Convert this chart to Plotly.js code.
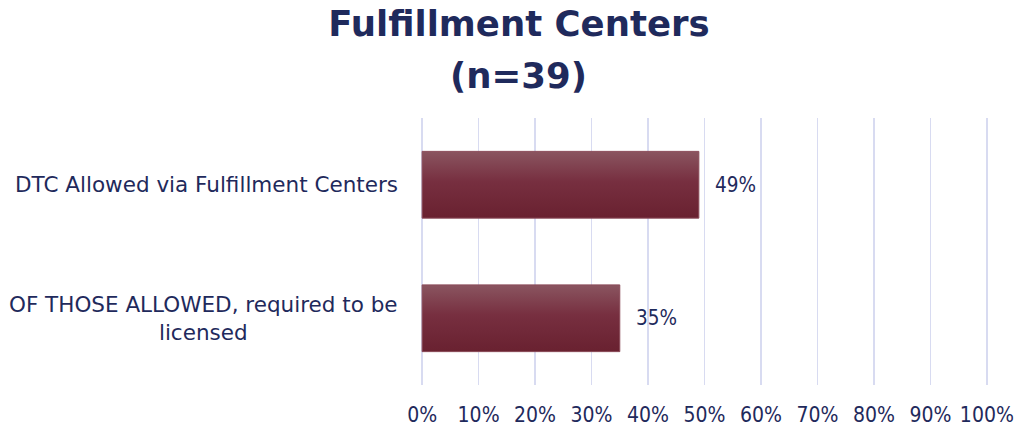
<!DOCTYPE html>
<html>
<head>
<meta charset="utf-8">
<script src="https://cdn.plot.ly/plotly-3.0.1.min.js"></script>
<style>
html,body{margin:0;padding:0;background:#fff;}
#chart{width:1017px;height:429px;}
</style>
</head>
<body>
<div id="chart"></div>
<script>
// ---- data ----
const categories = ["DTC Allowed via Fulfillment Centers", "OF THOSE ALLOWED, required to be licensed"];
const categoryLabels = ["DTC Allowed via Fulfillment Centers", "OF THOSE ALLOWED, required to be<br>licensed"];
const values = [0.49, 0.35];
const valueLabels = ["49%", "35%"];
const titleLine1 = "Fulfillment Centers";
const titleLine2 = "(n=39)";

const navy = "#1f2a5c";
const fontCond = "'DejaVu Sans Condensed', 'Open Sans', sans-serif";
const fontReg = "'DejaVu Sans', 'Open Sans', sans-serif";

const trace = {
  type: "bar",
  orientation: "h",
  x: values,
  y: categories,
  width: 0.5,
  marker: {color: "#742a3b", line: {color: "#8a4b59", width: 1}},
  hoverinfo: "none",
  showlegend: false
};

const annotations = [];
categories.forEach((c, i) => {
  annotations.push({
    x: 0, xref: "paper", y: c, yref: "y",
    xanchor: "right", yanchor: "middle", align: "center",
    xshift: -21, text: categoryLabels[i], showarrow: false,
    font: {family: fontReg, size: 21.5, color: navy}
  });
  annotations.push({
    x: values[i], xref: "x", y: c, yref: "y",
    xanchor: "left", yanchor: "middle", xshift: 14,
    text: valueLabels[i], showarrow: false,
    font: {family: fontCond, size: 20.5, color: navy}
  });
});
annotations.push({
  x: (518 - 421) / 567, xref: "paper", y: (385 - 75) / 267, yref: "paper",
  xanchor: "center", yanchor: "middle",
  text: "<b>" + titleLine2 + "</b>", showarrow: false,
  font: {family: fontReg, size: 35.5, color: navy}
});

const layout = {
  width: 1017, height: 429,
  margin: {l: 421, r: 29, t: 118, b: 44, pad: 0},
  paper_bgcolor: "#ffffff", plot_bgcolor: "#ffffff",
  title: {
    text: "<b>" + titleLine1 + "</b>",
    x: 0.5103, xref: "container", xanchor: "center",
    y: 1 - 24 / 429, yref: "container", yanchor: "middle",
    font: {family: fontReg, size: 35.5, color: navy}
  },
  xaxis: {
    range: [-0.002, 1.002], dtick: 0.1, tick0: 0, tickformat: ".0%",
    showgrid: true, gridcolor: "#d8dbf1", gridwidth: 1.6,
    zeroline: false, showline: false, ticks: "",
    ticklabelstandoff: 15,
    tickfont: {family: fontCond, size: 21, color: navy},
    fixedrange: true
  },
  yaxis: {
    type: "category", categoryorder: "array", categoryarray: categories,
    autorange: "reversed", showticklabels: false, showgrid: false,
    zeroline: false, showline: false, ticks: "", fixedrange: true
  },
  bargap: 0.5,
  annotations: annotations
};

Plotly.newPlot("chart", [trace], layout, {displayModeBar: false, staticPlot: true}).then(gd => {
  const svg = gd.querySelector("svg.main-svg");
  const ns = "http://www.w3.org/2000/svg";
  let defs = svg.querySelector("defs");
  if (!defs) { defs = document.createElementNS(ns, "defs"); svg.insertBefore(defs, svg.firstChild); }
  const grad = document.createElementNS(ns, "linearGradient");
  grad.setAttribute("id", "barGrad");
  grad.setAttribute("x1", "0"); grad.setAttribute("y1", "0");
  grad.setAttribute("x2", "0"); grad.setAttribute("y2", "1");
  [["0", "#8a5560"], ["0.45", "#772f40"], ["1", "#692130"]].forEach(([o, c]) => {
    const s = document.createElementNS(ns, "stop");
    s.setAttribute("offset", o); s.setAttribute("stop-color", c);
    grad.appendChild(s);
  });
  defs.appendChild(grad);
  gd.querySelectorAll(".barlayer .point path").forEach(p => {
    p.style.fill = "url(#barGrad)";
  });
});
</script>
</body>
</html>
